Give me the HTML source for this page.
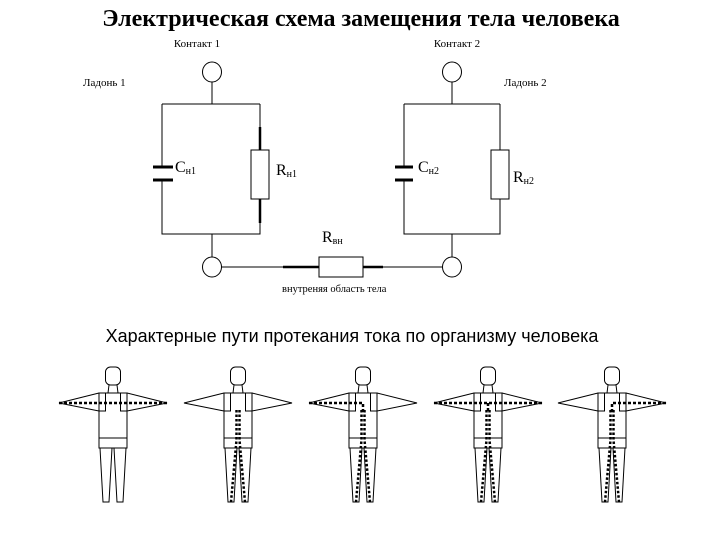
<!DOCTYPE html>
<html><head><meta charset="utf-8"><style>
html,body{margin:0;padding:0;background:#fff}
svg{display:block}
.s{font-family:"Liberation Serif","DejaVu Serif",serif}
</style></head><body>
<svg width="720" height="540" viewBox="0 0 720 540" xmlns="http://www.w3.org/2000/svg">
<defs>
<g id="fig" fill="none" stroke="#000" stroke-width="1">
  <rect x="-7.5" y="367" width="15" height="18" rx="5"/>
  <path d="M-4 385 L-5 393 M4 385 L5 393"/>
  <rect x="-14" y="393" width="28" height="45"/>
  <path d="M-7.5 393 V411 H-14 M7.5 393 V411 H14"/>
  <path d="M-14 393 L-54 403 L-14 411 M14 393 L54 403 L14 411"/>
  <rect x="-14" y="438" width="28" height="10"/>
  <path d="M-13 448 L-10 502 L-4 502 L-1 448 M1 448 L4 502 L10 502 L13 448"/>
</g>
<g id="legs" fill="none" stroke="#000" stroke-width="2.5" stroke-dasharray="2.5 2">
  <path d="M-1.5 410 V440 L-7 502 M1.5 410 V440 L7 502"/>
</g>
</defs>

<text x="361" y="26" text-anchor="middle" class="s" font-size="24" font-weight="bold">Электрическая схема замещения тела человека</text>
<text x="197" y="47" text-anchor="middle" class="s" font-size="11">Контакт 1</text>
<text x="457" y="47" text-anchor="middle" class="s" font-size="11">Контакт 2</text>
<text x="83" y="86" class="s" font-size="11">Ладонь 1</text>
<text x="504" y="86" class="s" font-size="11">Ладонь 2</text>

<g fill="none" stroke="#000" stroke-width="1">
  <ellipse cx="212" cy="72" rx="9.5" ry="10"/>
  <path d="M212 82 V104 M162 104 H260 M162 104 V167 M162 180 V234 H260 V104 M212 234 V257"/>
  <rect x="251" y="150" width="18" height="49" fill="#fff"/>
  <ellipse cx="212" cy="267" rx="9.5" ry="10"/>
  <path d="M221.5 267 H319 M363 267 H443"/>
  <rect x="319" y="257" width="44" height="20"/>
  <ellipse cx="452" cy="72" rx="9.5" ry="10"/>
  <path d="M452 82 V104 M404 104 H500 M404 104 V167 M404 180 V234 H500 V104 M452 234 V257"/>
  <rect x="491" y="150" width="18" height="49" fill="#fff"/>
  <ellipse cx="452" cy="267" rx="9.5" ry="10"/>
</g>
<g stroke="#000" stroke-width="3">
  <path d="M153 167 H173 M153 180 H173 M395 167 H413 M395 180 H413"/>
  <path d="M260 127 V150 M260 199 V223 M283 267 H319 M363 267 H383" stroke-width="2.5"/>
</g>
<text x="175" y="172" class="s" font-size="16">C<tspan font-size="10" dy="2">н1</tspan></text>
<text x="276" y="175" class="s" font-size="16">R<tspan font-size="10" dy="2">н1</tspan></text>
<text x="418" y="172" class="s" font-size="16">C<tspan font-size="10" dy="2">н2</tspan></text>
<text x="513" y="182" class="s" font-size="16">R<tspan font-size="10" dy="2">н2</tspan></text>
<text x="322" y="242" class="s" font-size="16">R<tspan font-size="10" dy="2">вн</tspan></text>
<text x="282" y="292" class="s" font-size="10.5">внутреняя область тела</text>

<text x="352" y="342" text-anchor="middle" font-family="Liberation Sans,Arial,sans-serif" font-size="18">Характерные пути протекания тока по организму человека</text>

<g transform="translate(113,0)"><use href="#fig"/>
  <path d="M-54 403 H54" stroke="#000" stroke-width="2.5" stroke-dasharray="3 2" fill="none"/></g>
<g transform="translate(238,0)"><use href="#fig"/><use href="#legs"/></g>
<g transform="translate(363,0)"><use href="#fig"/><use href="#legs"/>
  <path d="M-54 403 H0 V412" stroke="#000" stroke-width="2.5" stroke-dasharray="3 2" fill="none"/></g>
<g transform="translate(488,0)"><use href="#fig"/><use href="#legs"/>
  <path d="M-54 403 H54 M0 403 V412" stroke="#000" stroke-width="2.5" stroke-dasharray="3 2" fill="none"/></g>
<g transform="translate(612,0)"><use href="#fig"/><use href="#legs"/>
  <path d="M54 403 H0 V412" stroke="#000" stroke-width="2.5" stroke-dasharray="3 2" fill="none"/></g>
</svg>
</body></html>
